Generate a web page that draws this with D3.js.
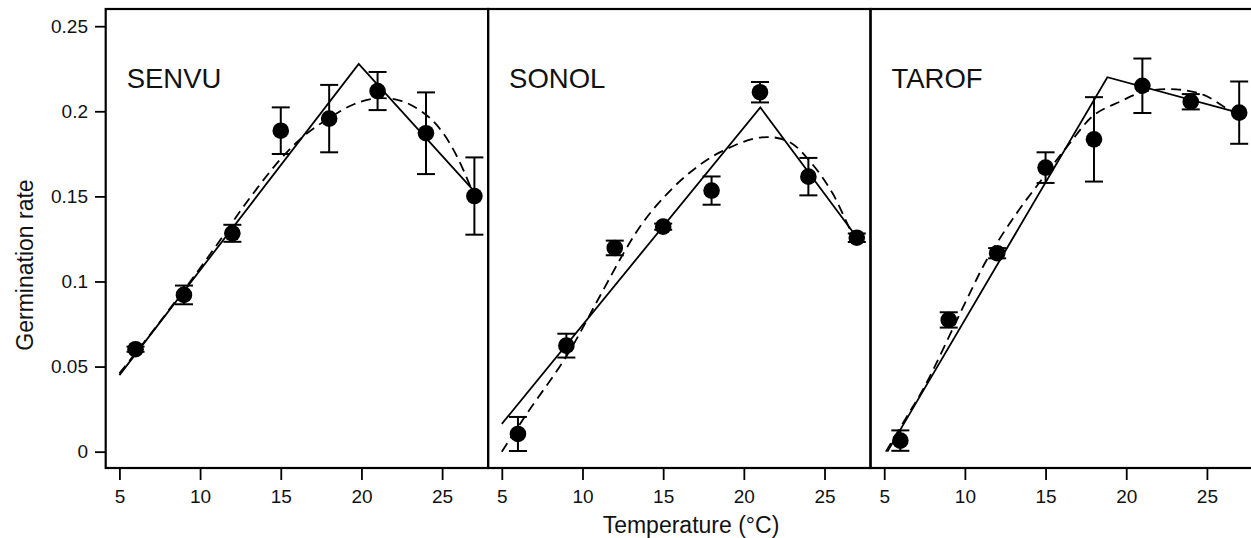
<!DOCTYPE html>
<html>
<head>
<meta charset="utf-8">
<script src="https://cdn.jsdelivr.net/npm/d3@7"></script>
<style>
  body { margin: 0; background: #ffffff; }
  svg { display: block; font-family: "Liberation Sans", Arial, sans-serif; }
</style>
</head>
<body>
<svg id="chart"></svg>
<script>
// data
const species = ["SENVU", "SONOL", "TAROF"];
const temps = [6, 9, 12, 15, 18, 21, 24, 27];

const senvuRate = [0.0602, 0.0921, 0.1283, 0.1886, 0.1957, 0.2119, 0.1871, 0.1502];
const senvuErr = [0.0015, 0.0055, 0.005, 0.0137, 0.0198, 0.0112, 0.024, 0.0227];
const sonolRate = [0.0104, 0.0623, 0.1197, 0.1322, 0.1534, 0.2112, 0.1616, 0.1257];
const sonolErr = [0.010, 0.007, 0.0043, 0.0018, 0.0083, 0.006, 0.011, 0.0025];
const tarofRate = [0.0065, 0.0774, 0.1166, 0.1669, 0.1835, 0.215, 0.2056, 0.1992];
const tarofErr = [0.006, 0.0045, 0.003, 0.009, 0.0248, 0.016, 0.0045, 0.0183];

// broken-stick fits (solid)
const senvuLinear = [[5, 0.045], [19.83, 0.2278], [27, 0.153]];
const sonolLinear = [[5, 0.0163], [21.02, 0.2023], [27, 0.126]];
const tarofLinear = [[5.2, 0.0], [18.83, 0.22], [27, 0.199]];

// smooth fits (dashed)
const senvuCurve = [[5, 0.046], [7, 0.070], [9, 0.095], [11, 0.121], [13, 0.148], [15, 0.172],
  [16.5, 0.186], [18, 0.196], [19.5, 0.204], [21, 0.2076], [22.5, 0.206], [24, 0.198],
  [25, 0.188], [26, 0.172], [27, 0.150]];
const sonolCurve = [[5, 0.0], [6.6, 0.023], [9, 0.056], [11, 0.090], [12.6, 0.1175], [13.7, 0.134],
  [14.9, 0.148], [16.6, 0.1636], [18.6, 0.1763], [21.1, 0.1847], [22.8, 0.1821], [24.2, 0.1694],
  [25.5, 0.1518], [26.6, 0.1303], [27, 0.124]];
const tarofCurve = [[5.1, 0.0], [6.4, 0.0206], [7.5, 0.0382], [10.1, 0.0891], [11.35, 0.1126],
  [13.2, 0.140], [14.9, 0.1616], [16.5, 0.1812], [18, 0.1978], [19.6, 0.2056], [21.1, 0.2115],
  [23.1, 0.2129], [24.8, 0.2096], [26.2, 0.2018], [27, 0.198]];

const rates = [senvuRate, sonolRate, tarofRate];
const errs = [senvuErr, sonolErr, tarofErr];
const linears = [senvuLinear, sonolLinear, tarofLinear];
const curves = [senvuCurve, sonolCurve, tarofCurve];

const xTicks = [5, 10, 15, 20, 25];
const yTicks = [0, 0.05, 0.1, 0.15, 0.2, 0.25];
const yTickLabels = ["0", "0.05", "0.1", "0.15", "0.2", "0.25"];

const width = 1251;
const height = 538;
const plotTop = 9;
const plotBottom = 468;
const panelLeft = 105.7;
const panelWidth = 382.4;

const svg = d3.select("#chart").attr("width", width).attr("height", height);

const y = d3.scaleLinear().domain([-0.0096, 0.2601]).range([plotBottom, plotTop]);

species.forEach((name, i) => {
  const left = panelLeft + i * panelWidth;
  const x = d3.scaleLinear().domain([4.15, 27.85]).range([left, left + panelWidth]);
  const g = svg.append("g");

  // Axis X
  const xAxis = g
    .append("g")
    .attr("transform", `translate(0,${plotBottom})`)
    .call(d3.axisBottom(x).tickValues(xTicks).tickSize(12).tickPadding(10));
  xAxis.select(".domain").remove();
  xAxis.selectAll("line").attr("stroke", "#000").attr("stroke-width", 1.8);
  xAxis.selectAll("text").attr("font-size", 19).attr("fill", "#111")
    .style("font-family", "'Liberation Sans', Arial, sans-serif");

  // fitted lines
  const line = d3.line().x((d) => x(d[0])).y((d) => y(d[1]));
  g.append("path")
    .datum(linears[i])
    .attr("d", line)
    .attr("fill", "none")
    .attr("stroke", "#000")
    .attr("stroke-width", 1.8);
  g.append("path")
    .datum(curves[i])
    .attr("d", line.curve(d3.curveCatmullRom))
    .attr("fill", "none")
    .attr("stroke", "#000")
    .attr("stroke-width", 1.8)
    .attr("stroke-dasharray", "10,6");

  // error bars + points
  const pts = temps.map((t, j) => ({ t, v: rates[i][j], e: errs[i][j] }));
  const bars = g.append("g").selectAll("g").data(pts).enter().append("g");
  bars.append("line")
    .attr("x1", (d) => x(d.t)).attr("x2", (d) => x(d.t))
    .attr("y1", (d) => y(d.v - d.e)).attr("y2", (d) => y(d.v + d.e))
    .attr("stroke", "#000").attr("stroke-width", 2);
  [-1, 1].forEach((s) => {
    bars.append("line")
      .attr("x1", (d) => x(d.t) - 9).attr("x2", (d) => x(d.t) + 9)
      .attr("y1", (d) => y(d.v + s * d.e)).attr("y2", (d) => y(d.v + s * d.e))
      .attr("stroke", "#000").attr("stroke-width", 2);
  });
  bars.append("circle")
    .attr("cx", (d) => x(d.t))
    .attr("cy", (d) => y(d.v))
    .attr("r", 8.3)
    .attr("fill", "#000");

  // frame
  g.append("rect")
    .attr("x", left).attr("y", plotTop)
    .attr("width", panelWidth).attr("height", plotBottom - plotTop)
    .attr("fill", "none").attr("stroke", "#000").attr("stroke-width", 2.2);

  g.append("text")
    .attr("x", left + 21)
    .attr("y", 88)
    .attr("font-size", 27.5)
    .attr("fill", "#111")
    .text(name);
});

// Axis Y
const yAxis = svg
  .append("g")
  .attr("transform", `translate(${panelLeft},0)`)
  .call(d3.axisLeft(y).tickValues(yTicks).tickFormat((d, i) => yTickLabels[i]).tickSize(10.7).tickPadding(7));
yAxis.select(".domain").remove();
yAxis.selectAll("line").attr("stroke", "#000").attr("stroke-width", 1.8);
yAxis.selectAll("text").attr("font-size", 19).attr("fill", "#111")
  .style("font-family", "'Liberation Sans', Arial, sans-serif");

// titles
svg.append("text")
  .attr("x", 691)
  .attr("y", 533)
  .attr("text-anchor", "middle")
  .attr("font-size", 23)
  .attr("fill", "#111")
  .text("Temperature (°C)");

svg.append("text")
  .attr("transform", "translate(33,265) rotate(-90)")
  .attr("text-anchor", "middle")
  .attr("font-size", 23)
  .attr("fill", "#111")
  .text("Germination rate");
</script>
</body>
</html>
